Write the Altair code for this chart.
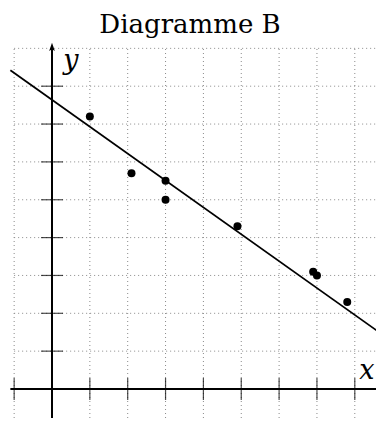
import altair as alt
import pandas as pd

# data
pt_x = [1.0, 2.1, 3.0, 3.0, 4.9, 6.9, 7.0, 7.8]
pt_y = [7.2, 5.7, 5.5, 5.0, 4.3, 3.1, 3.0, 2.3]
line_x = [-1.1, 8.77]
line_y = [8.42, 1.41]
grid_x = [-1, 0, 1, 2, 3, 4, 5, 6, 7, 8]
grid_y = [-1, 0, 1, 2, 3, 4, 5, 6, 7, 8, 9]
tick_x = [-1, 1, 2, 3, 4, 5, 6, 7, 8]
tick_y = [-1, 1, 2, 3, 4, 5, 6, 7, 8]
xlabel_pos = [8.52, 0.26]
ylabel_pos = [0.5, 8.45]
title_text = "Diagramme B"

UNIT = 37.85
W, H = 368, 378
XMIN = -44 / UNIT
XMAX = XMIN + W / UNIT
YMAX = 349 / UNIT
YMIN = YMAX - H / UNIT

xs = alt.Scale(domain=[XMIN, XMAX], nice=False, zero=False)
ys = alt.Scale(domain=[YMIN, YMAX], nice=False, zero=False)

def X(f="x"):
    return alt.X(f, type="quantitative", scale=xs, axis=None)

def Y(f="y"):
    return alt.Y(f, type="quantitative", scale=ys, axis=None)

gv = pd.DataFrame({"x": grid_x, "y": [YMIN] * len(grid_x), "y2": [9] * len(grid_x)})
gh = pd.DataFrame({"y": grid_y, "x": [-1] * len(grid_y), "x2": [XMAX] * len(grid_y)})

grid_style = dict(color="#8a8a8a", strokeWidth=1, strokeDash=[1, 3], clip=True)
vgrid = alt.Chart(gv).mark_rule(**grid_style).encode(x=X(), y=Y(), y2="y2")
hgrid = alt.Chart(gh).mark_rule(**grid_style).encode(y=Y(), x=X(), x2="x2")

xaxis = alt.Chart(pd.DataFrame({"x": [-1.1], "x2": [XMAX], "y": [0]})).mark_rule(
    color="black", strokeWidth=2).encode(x=X(), x2="x2", y=Y())
yaxis = alt.Chart(pd.DataFrame({"y": [YMIN], "y2": [9.0], "x": [0]})).mark_rule(
    color="black", strokeWidth=2).encode(y=Y(), y2="y2", x=X())
arrow = alt.Chart(pd.DataFrame({"x": [0], "y": [9.02]})).mark_point(
    shape="M0,-1L-0.6,0.7L0,0.35L0.6,0.7Z", filled=True, color="black", size=90, opacity=1
).encode(x=X(), y=Y())

xt = alt.Chart(pd.DataFrame({"x": tick_x, "y": [0] * len(tick_x)})).mark_tick(
    orient="vertical", size=22, thickness=1.2, color="black", clip=True).encode(x=X(), y=Y())
yt = alt.Chart(pd.DataFrame({"y": tick_y, "x": [0] * len(tick_y)})).mark_tick(
    orient="horizontal", size=22, thickness=1.2, color="black", clip=True).encode(x=X(), y=Y())

reg = alt.Chart(pd.DataFrame({"x": line_x, "y": line_y})).mark_line(
    color="black", strokeWidth=1.8, clip=True).encode(x=X(), y=Y())

pts = alt.Chart(pd.DataFrame({"x": pt_x, "y": pt_y})).mark_circle(
    color="black", size=64, opacity=1).encode(x=X(), y=Y())

lab_style = dict(font="DejaVu Serif", fontStyle="italic", fontSize=27, color="black",
                 baseline="alphabetic")
xlab = alt.Chart(pd.DataFrame({"t": ["x"], "x": [xlabel_pos[0]], "y": [xlabel_pos[1]]})).mark_text(
    align="right", **lab_style).encode(x=X(), y=Y(), text="t:N")
ylab = alt.Chart(pd.DataFrame({"t": ["y"], "x": [ylabel_pos[0]], "y": [ylabel_pos[1]]})).mark_text(
    align="center", **lab_style).encode(x=X(), y=Y(), text="t:N")

title = alt.Chart(pd.DataFrame({"t": [title_text]})).mark_text(
    font="DejaVu Serif", fontSize=26, color="black", align="center",
    baseline="alphabetic").encode(x=alt.value(182), y=alt.value(-7), text="t:N")

chart = alt.layer(vgrid, hgrid, xaxis, yaxis, arrow, xt, yt, reg, pts, xlab, ylab, title).properties(
    width=W, height=H,
    autosize=alt.AutoSizeParams(type="none"),
    padding={"left": 0, "top": 32, "right": 0, "bottom": 0},
).configure_view(stroke=None)

chart.save("out.html", embed_options={"renderer": "svg", "actions": False})
